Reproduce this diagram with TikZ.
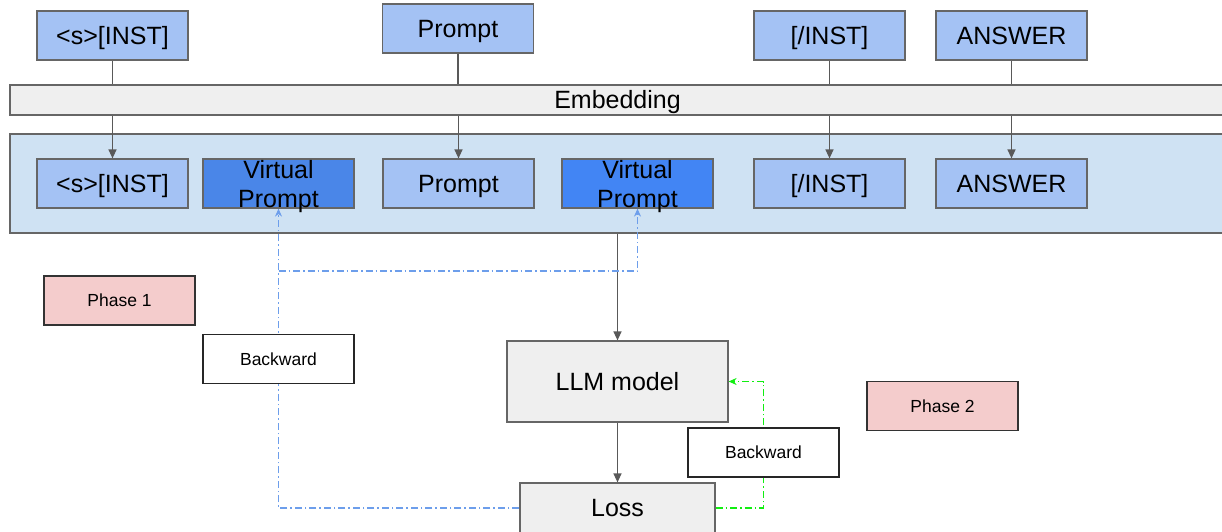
\documentclass[tikz,border=0pt]{standalone}
\usepackage{fontspec}
\setmainfont{Liberation Sans}
\usetikzlibrary{arrows.meta}
\definecolor{tokfill}{HTML}{A4C2F4}
\definecolor{vpafill}{HTML}{4A86E8}
\definecolor{vpbfill}{HTML}{4285F4}
\definecolor{contfill}{HTML}{CFE2F3}
\definecolor{greyfill}{HTML}{EFEFEF}
\definecolor{phasefill}{HTML}{F4CCCC}
\definecolor{edge}{HTML}{666666}
\definecolor{arrowgrey}{HTML}{595959}
\definecolor{backblue}{HTML}{6D9EEB}
\definecolor{backgreen}{HTML}{11EE11}
\pgfdeclarelayer{bg}
\pgfdeclarelayer{wires}
\pgfsetlayers{bg,wires,main}
\tikzset{
  bigtext/.style={font=\fontsize{25}{29}\selectfont},
  smalltext/.style={font=\fontsize{17.5}{21}\selectfont, text height=12.6pt, text depth=0pt},
  capcentre/.style={text height=17.9pt, text depth=0pt},
  tokbox/.style={draw=edge, line width=1.2pt, fill=tokfill, minimum width=151pt, minimum height=49pt, inner sep=0pt, bigtext, capcentre},
  vpbox/.style={draw=edge, line width=1.2pt, minimum width=151pt, minimum height=49pt, inner sep=0pt},
  greybox/.style={draw=edge, line width=1.2pt, fill=greyfill, inner sep=0pt, bigtext, capcentre},
  phasebox/.style={draw=black!80, line width=1.2pt, fill=phasefill, minimum width=151pt, minimum height=49pt, inner sep=0pt, smalltext},
  backbox/.style={draw=black!85, line width=1.2pt, fill=white, minimum width=151pt, minimum height=49pt, inner sep=0pt, smalltext},
  plain/.style={draw=arrowgrey, line width=1.3pt},
  fwd/.style={plain, -{Triangle[length=9pt,width=8pt]}},
  dashdot/.style={line width=1.3pt, dash pattern=on 7pt off 3pt on 1.5pt off 3pt},
  bluegrad/.style={dashdot, draw=backblue, -{Stealth[length=8pt,width=7pt]}},
  greengrad/.style={dashdot, draw=backgreen, -{Stealth[length=8pt,width=7pt]}},
}
\begin{document}
\begin{tikzpicture}[x=1pt, y=-1pt]
\useasboundingbox (0,0) rectangle (1222,531);

% embedding bar and token container
\begin{pgfonlayer}{bg}
\node[draw=edge, line width=1.2pt, fill=contfill, minimum width=1215pt, minimum height=99pt, inner sep=0pt] (cont) at (617.5,183.5) {};
\end{pgfonlayer}
\node[greybox, minimum width=1215pt, minimum height=30pt] (emb) at (617.5,100) {Embedding};

% input tokens
\node[tokbox] (t1) at (112.5,35.5) {<s>[INST]};
\node[tokbox] (t2) at (458,28.5) {Prompt};
\node[tokbox] (t3) at (829.5,35.5) {[/INST]};
\node[tokbox] (t4) at (1011.5,35.5) {ANSWER};

% embedded sequence with virtual prompts
\node[tokbox] (i1) at (112.5,183.5) {<s>[INST]};
\node[vpbox, fill=vpafill] (vp1) at (278.5,183.5) {};
\node[bigtext, align=center, inner sep=0pt] (vp1t) at (278.5,187) {Virtual\\Prompt};
\node[tokbox] (i2) at (458.5,183.5) {Prompt};
\node[vpbox, fill=vpbfill] (vp2) at (637.5,183.5) {};
\node[bigtext, align=center, inner sep=0pt] (vp2t) at (637.5,187) {Virtual\\Prompt};
\node[tokbox] (i3) at (829.5,183.5) {[/INST]};
\node[tokbox] (i4) at (1011.5,183.5) {ANSWER};

% model and loss
\node[greybox, minimum width=221pt, minimum height=81pt] (llm) at (617.5,381.5) {LLM model};
\node[greybox, minimum width=195pt, minimum height=50pt] (loss) at (617.5,508) {Loss};

% phases and backward labels
\node[phasebox] (ph1) at (119.5,300.5) {Phase 1};
\node[phasebox] (ph2) at (942.5,406) {Phase 2};
\node[backbox] (bw1) at (278.5,359) {Backward};
\node[backbox] (bw2) at (763.5,452.5) {Backward};

\coordinate (split) at (278.5,271);

\begin{pgfonlayer}{wires}
% forward path
\foreach \a/\b in {t1/i1, t2/i2, t3/i3, t4/i4}{
  \draw[plain] (\a.south) -- (\a.south |- emb.north);
  \draw[fwd] (emb.south -| \b.north) -- (\b.north);
}
\draw[fwd] (cont.south -| llm.north) -- (llm.north);
\draw[fwd] (llm.south) -- (loss.north);
% phase 1 gradients to the virtual prompts
\draw[bluegrad] (loss.west) -| (vp1.south);
\draw[bluegrad] (split) -| (vp2.south);
% phase 2 gradient to the model
\draw[greengrad] (loss.east) -| (bw2.center) |- (llm.east);
\end{pgfonlayer}
\end{tikzpicture}
\end{document}
